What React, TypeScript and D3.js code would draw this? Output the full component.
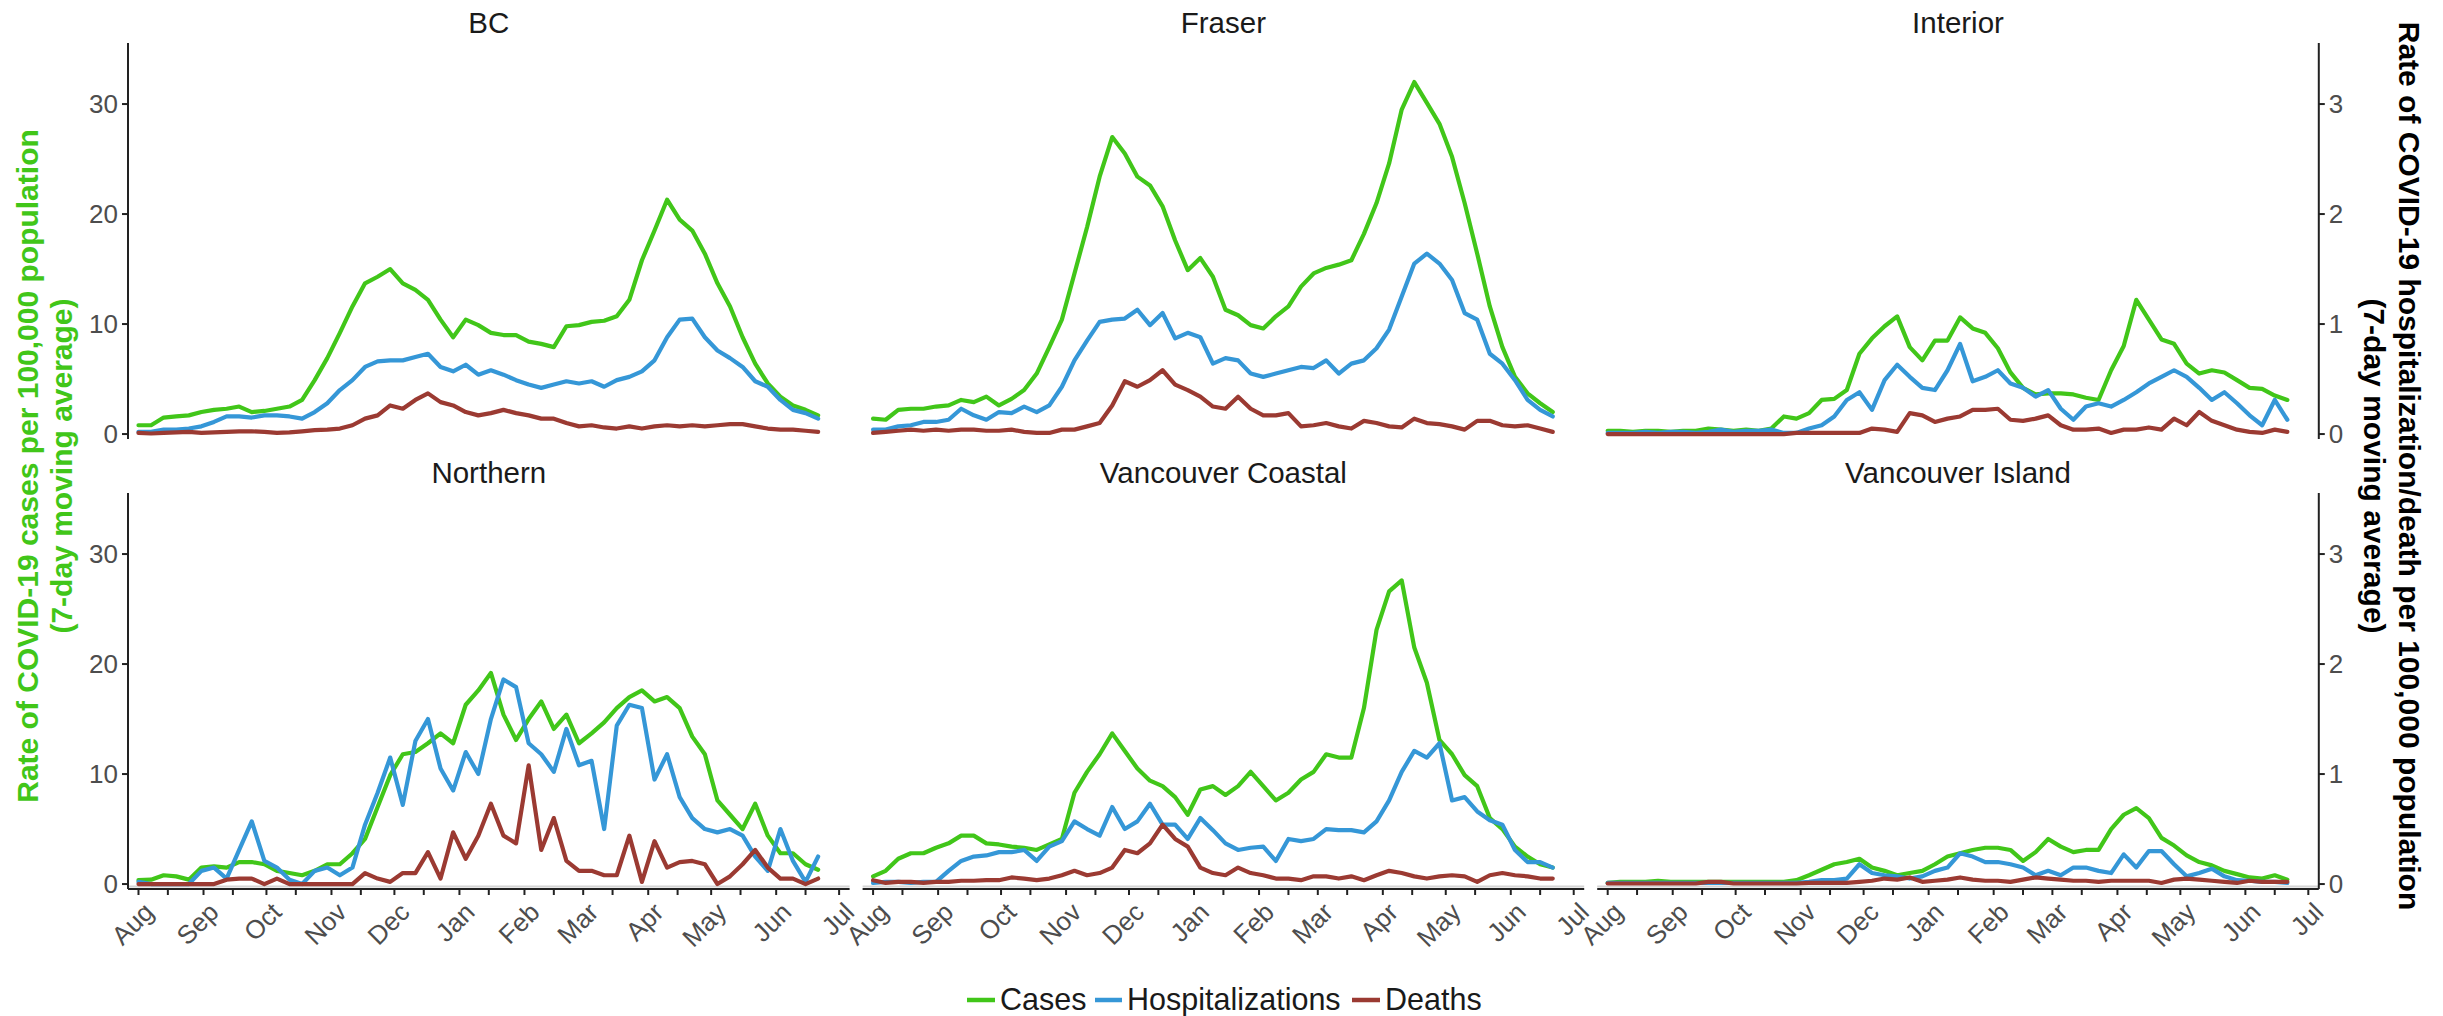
import React from "react";
import * as d3 from "d3";

// ---------- data ----------
const DATES = [
  "2020-08-01","2020-08-07","2020-08-13","2020-08-19","2020-08-25","2020-08-31","2020-09-06","2020-09-12","2020-09-18","2020-09-24",
  "2020-09-30","2020-10-06","2020-10-12","2020-10-18","2020-10-24","2020-10-30","2020-11-05","2020-11-11","2020-11-17","2020-11-23",
  "2020-11-29","2020-12-05","2020-12-11","2020-12-17","2020-12-23","2020-12-29","2021-01-04","2021-01-10","2021-01-16","2021-01-22",
  "2021-01-28","2021-02-03","2021-02-09","2021-02-15","2021-02-21","2021-02-27","2021-03-05","2021-03-11","2021-03-17","2021-03-23",
  "2021-03-29","2021-04-04","2021-04-10","2021-04-16","2021-04-22","2021-04-28","2021-05-04","2021-05-10","2021-05-16","2021-05-22",
  "2021-05-28","2021-06-03","2021-06-09","2021-06-15","2021-06-21",
];

const REGIONS = ["BC", "Fraser", "Interior", "Northern", "Vancouver Coastal", "Vancouver Island"];

// cases: left axis (per 100,000); hospitalizations & deaths: right axis (per 100,000)
const BC_CASES = [
  0.8,0.8,1.5,1.6,1.7,2.0,2.2,2.3,2.5,2.0,
  2.1,2.3,2.5,3.1,4.9,6.9,9.2,11.6,13.7,14.3,
  15.0,13.7,13.1,12.2,10.4,8.8,10.4,9.9,9.2,9.0,
  9.0,8.4,8.2,7.9,9.8,9.9,10.2,10.3,10.7,12.2,
  15.8,18.5,21.3,19.5,18.5,16.4,13.7,11.6,8.8,6.4,
  4.6,3.4,2.6,2.2,1.7,
];
const BC_HOSP = [
  0.02,0.02,0.04,0.04,0.05,0.07,0.11,0.16,0.16,0.15,
  0.17,0.17,0.16,0.14,0.20,0.28,0.40,0.49,0.61,0.66,
  0.67,0.67,0.70,0.73,0.61,0.57,0.63,0.54,0.58,0.54,
  0.49,0.45,0.42,0.45,0.48,0.46,0.48,0.43,0.49,0.52,
  0.57,0.67,0.88,1.04,1.05,0.88,0.76,0.69,0.61,0.48,
  0.43,0.31,0.22,0.19,0.14,
];
const BC_DEATHS = [
  0.01,0.005,0.01,0.015,0.02,0.01,0.015,0.02,0.025,0.025,
  0.02,0.01,0.015,0.025,0.036,0.04,0.05,0.08,0.14,0.17,
  0.26,0.23,0.31,0.37,0.29,0.26,0.20,0.17,0.19,0.22,
  0.19,0.17,0.14,0.14,0.10,0.07,0.08,0.06,0.05,0.07,
  0.05,0.07,0.08,0.07,0.08,0.07,0.08,0.09,0.09,0.07,
  0.05,0.04,0.04,0.03,0.02,
];

const FRASER_CASES = [
  1.4,1.3,2.2,2.3,2.3,2.5,2.6,3.1,2.9,3.4,
  2.6,3.2,4.0,5.5,7.9,10.4,14.6,18.8,23.4,27.0,
  25.5,23.4,22.6,20.7,17.6,14.9,16.0,14.3,11.3,10.8,
  9.9,9.6,10.7,11.6,13.4,14.6,15.1,15.4,15.8,18.2,
  21.0,24.6,29.5,32.0,30.1,28.2,25.2,21.0,16.4,11.6,
  7.9,5.2,3.7,2.8,2.0,
];
const FRASER_HOSP = [
  0.04,0.04,0.07,0.08,0.11,0.11,0.13,0.23,0.17,0.13,
  0.20,0.19,0.25,0.20,0.26,0.43,0.67,0.85,1.02,1.04,
  1.05,1.13,0.99,1.10,0.87,0.92,0.88,0.64,0.69,0.67,
  0.55,0.52,0.55,0.58,0.61,0.60,0.67,0.55,0.64,0.67,
  0.78,0.95,1.25,1.55,1.64,1.55,1.40,1.10,1.04,0.73,
  0.64,0.49,0.31,0.22,0.16,
];
const FRASER_DEATHS = [
  0.01,0.02,0.03,0.04,0.03,0.04,0.03,0.04,0.04,0.03,
  0.03,0.04,0.02,0.01,0.01,0.04,0.04,0.07,0.10,0.26,
  0.48,0.43,0.49,0.58,0.45,0.40,0.34,0.25,0.23,0.34,
  0.23,0.17,0.17,0.19,0.07,0.08,0.10,0.07,0.05,0.12,
  0.10,0.07,0.06,0.14,0.10,0.09,0.07,0.04,0.12,0.12,
  0.08,0.07,0.08,0.05,0.02,
];

const INTERIOR_CASES = [
  0.3,0.3,0.2,0.3,0.3,0.2,0.3,0.3,0.5,0.4,
  0.3,0.4,0.3,0.5,1.6,1.4,1.9,3.1,3.2,4.0,
  7.3,8.7,9.8,10.7,7.9,6.7,8.5,8.5,10.6,9.6,
  9.2,7.8,5.6,4.2,3.6,3.7,3.7,3.6,3.3,3.1,
  5.8,8.0,12.2,10.4,8.6,8.2,6.4,5.5,5.8,5.6,
  4.9,4.2,4.1,3.5,3.1,
];
const INTERIOR_HOSP = [
  0.01,0.01,0.01,0.02,0.01,0.02,0.02,0.01,0.02,0.04,
  0.02,0.03,0.03,0.04,0.01,0.01,0.05,0.08,0.16,0.31,
  0.38,0.22,0.49,0.63,0.52,0.42,0.40,0.58,0.82,0.48,
  0.52,0.58,0.46,0.42,0.34,0.40,0.23,0.13,0.25,0.28,
  0.25,0.31,0.38,0.46,0.52,0.58,0.52,0.42,0.31,0.38,
  0.28,0.17,0.08,0.31,0.13,
];
const INTERIOR_DEATHS = [
  0,0,0,0,0,0,0,0,0,0,
  0,0,0,0,0,0.01,0.01,0.01,0.01,0.01,
  0.01,0.05,0.04,0.02,0.19,0.17,0.11,0.14,0.16,0.22,
  0.22,0.23,0.13,0.12,0.14,0.17,0.08,0.04,0.04,0.05,
  0.01,0.04,0.04,0.06,0.04,0.14,0.08,0.20,0.12,0.08,
  0.04,0.02,0.01,0.04,0.02,
];

const NORTHERN_CASES = [
  0.35,0.4,0.8,0.7,0.4,1.5,1.6,1.5,2.0,2.0,
  1.8,1.2,1.0,0.8,1.2,1.8,1.8,2.8,4.1,7.0,
  9.9,11.8,12.0,12.8,13.7,12.8,16.3,17.6,19.2,15.4,
  13.1,15.0,16.6,14.1,15.4,12.8,13.7,14.7,16.0,17.0,
  17.6,16.6,17.0,16.0,13.4,11.8,7.6,6.3,5.0,7.3,
  4.4,2.8,2.8,1.8,1.3,
];
const NORTHERN_HOSP = [
  0.02,0,0,0,0,0.12,0.15,0.05,0.31,0.57,
  0.21,0.15,0.04,0,0.12,0.15,0.08,0.15,0.54,0.83,
  1.15,0.72,1.30,1.50,1.05,0.85,1.20,1.00,1.50,1.86,
  1.79,1.28,1.18,1.02,1.41,1.08,1.12,0.50,1.44,1.63,
  1.60,0.95,1.18,0.79,0.60,0.50,0.47,0.50,0.44,0.25,
  0.12,0.50,0.21,0.02,0.25,
];
const NORTHERN_DEATHS = [
  0,0,0,0,0,0,0,0.04,0.05,0.05,
  0,0.05,0,0,0,0,0,0,0.10,0.05,
  0.02,0.10,0.10,0.29,0.05,0.47,0.23,0.44,0.73,0.44,
  0.37,1.08,0.31,0.60,0.21,0.12,0.12,0.08,0.08,0.44,
  0.02,0.39,0.15,0.20,0.21,0.18,0,0.07,0.18,0.31,
  0.15,0.05,0.05,0,0.05,
];

const VC_CASES = [
  0.7,1.2,2.3,2.8,2.8,3.3,3.7,4.4,4.4,3.7,
  3.6,3.4,3.3,3.1,3.6,4.1,8.3,10.2,11.8,13.7,
  12.1,10.5,9.4,8.9,7.9,6.3,8.6,8.9,8.1,8.9,
  10.2,8.9,7.6,8.3,9.5,10.2,11.8,11.5,11.5,16.0,
  23.1,26.6,27.6,21.5,18.3,13.1,11.8,9.9,8.9,6.0,
  5.0,3.4,2.5,1.8,1.5,
];
const VC_HOSP = [
  0.01,0.02,0.02,0.01,0.02,0.02,0.12,0.21,0.25,0.26,
  0.29,0.29,0.31,0.21,0.34,0.39,0.57,0.50,0.44,0.70,
  0.50,0.57,0.73,0.54,0.54,0.41,0.60,0.49,0.37,0.31,
  0.33,0.34,0.21,0.41,0.39,0.41,0.50,0.49,0.49,0.47,
  0.57,0.76,1.02,1.21,1.15,1.28,0.76,0.79,0.66,0.58,
  0.54,0.31,0.20,0.20,0.15,
];
const VC_DEATHS = [
  0.035,0.01,0.02,0.02,0.01,0.02,0.02,0.03,0.03,0.035,
  0.035,0.06,0.05,0.035,0.05,0.08,0.12,0.08,0.10,0.15,
  0.31,0.28,0.37,0.54,0.41,0.34,0.15,0.10,0.08,0.15,
  0.10,0.08,0.05,0.05,0.035,0.07,0.07,0.05,0.07,0.035,
  0.08,0.12,0.10,0.07,0.05,0.07,0.08,0.07,0.02,0.08,
  0.10,0.08,0.07,0.05,0.05,
];

const VI_CASES = [
  0.1,0.2,0.2,0.2,0.3,0.2,0.2,0.2,0.2,0.2,
  0.2,0.2,0.2,0.2,0.2,0.35,0.8,1.3,1.8,2.0,
  2.3,1.5,1.2,0.8,1.0,1.2,1.8,2.5,2.8,3.1,
  3.3,3.3,3.1,2.1,2.9,4.1,3.4,2.9,3.1,3.1,
  5.0,6.3,6.9,6.0,4.2,3.5,2.6,2.0,1.7,1.2,
  0.9,0.6,0.5,0.8,0.4,
];
const VI_HOSP = [
  0.01,0.01,0.01,0.01,0.01,0.01,0.01,0.01,0.01,0.01,
  0.01,0.01,0.01,0.01,0.01,0.01,0.02,0.035,0.035,0.05,
  0.18,0.10,0.08,0.07,0.05,0.07,0.12,0.15,0.28,0.25,
  0.20,0.20,0.18,0.15,0.08,0.12,0.08,0.15,0.15,0.12,
  0.10,0.27,0.15,0.30,0.30,0.18,0.07,0.10,0.14,0.07,
  0.035,0.03,0.02,0.02,0.01,
];
const VI_DEATHS = [
  0.005,0.005,0.005,0.005,0.005,0.005,0.005,0.005,0.02,0.02,
  0.005,0.005,0.005,0.005,0.005,0.005,0.01,0.01,0.01,0.01,
  0.02,0.03,0.05,0.04,0.06,0.02,0.03,0.04,0.06,0.04,
  0.03,0.03,0.02,0.04,0.06,0.05,0.04,0.03,0.03,0.02,
  0.03,0.03,0.03,0.03,0.01,0.04,0.05,0.04,0.03,0.02,
  0.01,0.03,0.02,0.02,0.02,
];

const SERIES_NAMES = ["Cases", "Hospitalizations", "Deaths"];
const SERIES_COLORS = ["#41C619", "#3597D7", "#9B3A32"];

const MONTH_TICKS = [
  "2020-08-01","2020-09-01","2020-10-01","2020-11-01","2020-12-01","2021-01-01",
  "2021-02-01","2021-03-01","2021-04-01","2021-05-01","2021-06-01","2021-07-01",
];
const MID_TICKS = [
  "2020-08-15","2020-09-15","2020-10-15","2020-11-15","2020-12-15","2021-01-15",
  "2021-02-15","2021-03-15","2021-04-15","2021-05-15","2021-06-15",
];
const LEFT_TICKS = [0, 10, 20, 30];
const RIGHT_TICKS = [0, 1, 2, 3];
const X_DOMAIN = ["2020-07-27", "2021-07-06"];
const LEFT_DOMAIN = [-0.45, 35.55];
const RIGHT_DOMAIN = [-0.045, 3.555];

const LEFT_TITLE = ["Rate of COVID-19 cases per 100,000 population", "(7-day moving average)"];
const RIGHT_TITLE = ["Rate of COVID-19 hospitalization/death per 100,000 population", "(7-day moving average)"];

const REGION_SERIES = [
  [BC_CASES, BC_HOSP, BC_DEATHS],
  [FRASER_CASES, FRASER_HOSP, FRASER_DEATHS],
  [INTERIOR_CASES, INTERIOR_HOSP, INTERIOR_DEATHS],
  [NORTHERN_CASES, NORTHERN_HOSP, NORTHERN_DEATHS],
  [VC_CASES, VC_HOSP, VC_DEATHS],
  [VI_CASES, VI_HOSP, VI_DEATHS],
];

// ---------- layout ----------
const W = 2443;
const H = 1016;
const COL_X = [128, 862.6, 1597.2];
const PANEL_W = 721.6;
const ROW_Y = [43, 493];
const PANEL_H = 396;
const FONT = "'Liberation Sans', Arial, Helvetica, sans-serif";
const AXIS_COLOR = "#222222";
const TICK_TEXT = "#4D4D4D";

const parse = d3.utcParse("%Y-%m-%d");
const fmtMonth = d3.utcFormat("%b");

export default function App() {
  const dates = DATES.map((s) => parse(s) as Date);
  const bottomY = ROW_Y[1] + PANEL_H;
  const rightAxisX = COL_X[2] + PANEL_W;

  const panels = REGIONS.map((name, i) => {
    const col = i % 3;
    const row = Math.floor(i / 3);
    const x0 = COL_X[col];
    const y0 = ROW_Y[row];
    const x = d3.scaleUtc().domain(X_DOMAIN.map((s) => parse(s) as Date)).range([x0, x0 + PANEL_W]);
    const yL = d3.scaleLinear().domain(LEFT_DOMAIN).range([y0 + PANEL_H, y0]);
    const yR = d3.scaleLinear().domain(RIGHT_DOMAIN).range([y0 + PANEL_H, y0]);
    const series = REGION_SERIES[i];
    const paths = series.map((vals, si) => {
      const ys = si === 0 ? yL : yR;
      const line = d3
        .line<number>()
        .x((_, k) => x(dates[k]))
        .y((v) => ys(v));
      return line(vals) || "";
    });
    return { name, col, row, x0, y0, x, yL, yR, paths };
  });

  const legendItems = [
    { x1: 967, x2: 995, tx: 1000 },
    { x1: 1095, x2: 1122, tx: 1127 },
    { x1: 1352, x2: 1380, tx: 1385 },
  ];

  return (
    <svg
      width={W}
      height={H}
      viewBox={`0 0 ${W} ${H}`}
      style={{ position: "absolute", left: 0, top: 0, display: "block", background: "#ffffff" }}
      fontFamily={FONT}
    >
      <rect x={0} y={0} width={W} height={H} fill="#ffffff" />

      {panels.map((p) => (
        <g key={p.name}>
          <text
            x={p.x0 + PANEL_W / 2}
            y={p.y0 - 10}
            textAnchor="middle"
            fontSize={29.5}
            fill="#1A1A1A"
          >
            {p.name}
          </text>

          {p.row === 1 && (
            <g>
              <line x1={p.x0} x2={p.x0 + PANEL_W} y1={bottomY - 2.5} y2={bottomY - 2.5} stroke="#D4D4D4" strokeWidth={2} />
              <line x1={p.x0} x2={p.x0 + PANEL_W} y1={bottomY} y2={bottomY} stroke={AXIS_COLOR} strokeWidth={2} />
              {MID_TICKS.map((s) => {
                const xx = p.x(parse(s) as Date);
                return <line key={s} x1={xx} x2={xx} y1={bottomY} y2={bottomY + 6} stroke={AXIS_COLOR} strokeWidth={2} />;
              })}
              {MONTH_TICKS.map((s) => {
                const d = parse(s) as Date;
                const xx = p.x(d);
                return (
                  <g key={s}>
                    <line x1={xx} x2={xx} y1={bottomY} y2={bottomY + 6} stroke={AXIS_COLOR} strokeWidth={2} />
                    <text
                      transform={`translate(${xx + 3},${bottomY + 11}) rotate(-45)`}
                      textAnchor="end"
                      dy="0.75em"
                      fontSize={26}
                      fill={TICK_TEXT}
                    >
                      {fmtMonth(d)}
                    </text>
                  </g>
                );
              })}
            </g>
          )}

          {p.col === 0 && (
            <g>
              <line x1={p.x0} x2={p.x0} y1={p.y0} y2={p.y0 + PANEL_H} stroke={AXIS_COLOR} strokeWidth={2} />
              {LEFT_TICKS.map((t) => (
                <g key={t}>
                  <line x1={p.x0 - 6} x2={p.x0} y1={p.yL(t)} y2={p.yL(t)} stroke={AXIS_COLOR} strokeWidth={2} />
                  <text x={p.x0 - 10} y={p.yL(t)} dy="0.36em" textAnchor="end" fontSize={26} fill={TICK_TEXT}>
                    {t}
                  </text>
                </g>
              ))}
            </g>
          )}

          {p.col === 2 && (
            <g>
              <line x1={rightAxisX} x2={rightAxisX} y1={p.y0} y2={p.y0 + PANEL_H} stroke={AXIS_COLOR} strokeWidth={2} />
              {RIGHT_TICKS.map((t) => (
                <g key={t}>
                  <line x1={rightAxisX} x2={rightAxisX + 6} y1={p.yR(t)} y2={p.yR(t)} stroke={AXIS_COLOR} strokeWidth={2} />
                  <text x={rightAxisX + 10} y={p.yR(t)} dy="0.36em" textAnchor="start" fontSize={26} fill={TICK_TEXT}>
                    {t}
                  </text>
                </g>
              ))}
            </g>
          )}

          {p.paths.map((d, si) => (
            <path
              key={si}
              d={d}
              fill="none"
              stroke={SERIES_COLORS[si]}
              strokeWidth={4.2}
              strokeLinejoin="round"
              strokeLinecap="round"
            />
          ))}
        </g>
      ))}

      <text
        transform={`translate(38,466) rotate(-90)`}
        textAnchor="middle"
        fontSize={30}
        fontWeight="bold"
        fill={SERIES_COLORS[0]}
      >
        <tspan x={0} dy={0}>{LEFT_TITLE[0]}</tspan>
        <tspan x={0} dy={34}>{LEFT_TITLE[1]}</tspan>
      </text>

      <text
        transform={`translate(2399,466) rotate(90)`}
        textAnchor="middle"
        fontSize={30}
        fontWeight="bold"
        fill="#000000"
      >
        <tspan x={0} dy={0}>{RIGHT_TITLE[0]}</tspan>
        <tspan x={0} dy={35}>{RIGHT_TITLE[1]}</tspan>
      </text>

      {SERIES_NAMES.map((name, i) => (
        <g key={name}>
          <line
            x1={legendItems[i].x1}
            x2={legendItems[i].x2}
            y1={1000}
            y2={1000}
            stroke={SERIES_COLORS[i]}
            strokeWidth={4.5}
          />
          <text x={legendItems[i].tx} y={1010} fontSize={30.5} fill="#1A1A1A">
            {name}
          </text>
        </g>
      ))}
    </svg>
  );
}
